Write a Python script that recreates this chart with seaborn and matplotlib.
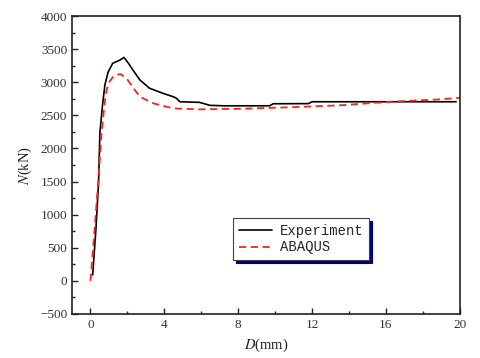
import matplotlib
matplotlib.use("Agg")
import matplotlib.pyplot as plt
import seaborn as sns
import pandas as pd
from matplotlib.ticker import MultipleLocator

# Experiment curve (D in mm, N in kN)
exp_d = [0.12, 0.30, 0.44, 0.51, 0.65, 0.78, 0.95, 1.2, 1.6, 1.81, 2.05, 2.3, 2.68, 3.2, 3.93, 4.48, 4.65, 4.84, 5.9, 6.46, 7.2, 9.7, 9.9, 11.8, 12.0, 16.0, 19.8]
exp_n = [90, 800, 1500, 2233, 2650, 2958, 3150, 3286, 3336, 3376, 3290, 3185, 3034, 2910, 2833, 2782, 2760, 2706, 2697, 2652, 2645, 2645, 2676, 2678, 2706, 2706, 2706]

# ABAQUS curve
aba_d = [0.0, 0.2, 0.42, 0.6, 0.75, 0.87, 1.05, 1.23, 1.45, 1.63, 1.96, 2.3, 2.68, 3.4, 4.48, 5.9, 8.1, 10.5, 13.5, 16.2, 18.9, 20.0]
aba_n = [0, 700, 1500, 2230, 2650, 2883, 3020, 3083, 3115, 3124, 3059, 2920, 2782, 2682, 2606, 2591, 2600, 2620, 2652, 2706, 2742, 2766]

x_ticks = [0, 4, 8, 12, 16, 20]
y_ticks = [-500, 0, 500, 1000, 1500, 2000, 2500, 3000, 3500, 4000]

sns.set_style("ticks")
plt.rcParams["font.family"] = ["Liberation Serif", "DejaVu Serif"]
plt.rcParams["mathtext.fontset"] = "stix"

fig = plt.figure(figsize=(4.8, 3.58), dpi=100)
ax = fig.add_axes([0.15, 0.123, 0.808, 0.832])

df_exp = pd.DataFrame({"D": exp_d, "N": exp_n})
df_aba = pd.DataFrame({"D": aba_d, "N": aba_n})

sns.lineplot(data=df_exp, x="D", y="N", ax=ax, color="black", lw=1.2,
             label="Experiment", sort=False)
sns.lineplot(data=df_aba, x="D", y="N", ax=ax, color="#ff2020", lw=1.3,
             label="ABAQUS", sort=False, dashes=False)
ax.lines[1].set_dashes([4, 2.5])

ax.set_xlim(-1, 20)
ax.set_ylim(-500, 4000)
ax.set_xticks(x_ticks)
ax.set_yticks(y_ticks)
ax.xaxis.set_minor_locator(MultipleLocator(2))
ax.yaxis.set_minor_locator(MultipleLocator(250))
ax.tick_params(which="major", direction="in", length=4, width=1.0,
               labelsize=9.5, colors="#222222", labelcolor="#333333")
ax.tick_params(which="minor", direction="in", length=2.5, width=1.0, colors="#222222")
for s in ax.spines.values():
    s.set_visible(True)
    s.set_linewidth(1.2)
    s.set_color("#222222")

ax.set_xlabel(r"$D$(mm)", fontsize=10.5, color="#222222", labelpad=4)
ax.set_ylabel(r"$N$(kN)", fontsize=10.5, color="#222222", labelpad=4)

leg = ax.legend(loc="upper left", bbox_to_anchor=(0.415, 0.322), borderaxespad=0,
                frameon=True, fancybox=False, handlelength=2.4, handletextpad=0.6,
                borderpad=0.4, labelspacing=0.2,
                prop={"family": ["Liberation Mono", "DejaVu Sans Mono"], "size": 10},
                shadow={"color": "#000080", "alpha": 1.0})
leg.get_frame().set_edgecolor("#444444")
leg.get_frame().set_linewidth(0.8)

fig.savefig("out.png", dpi=100)
